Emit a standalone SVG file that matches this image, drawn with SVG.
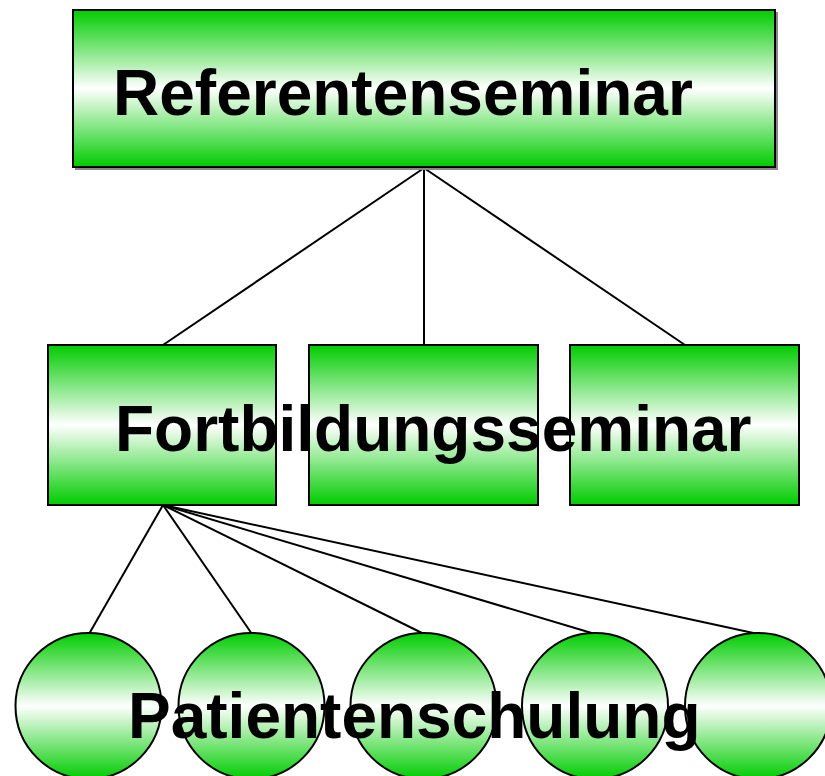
<svg xmlns="http://www.w3.org/2000/svg" width="825" height="776" viewBox="0 0 825 776">
<style>
.box{fill:url(#g);stroke:#000;stroke-width:2}
.sh{fill:#888}
.lbl{font-family:"Liberation Sans",Arial,sans-serif;font-weight:bold;font-size:64px;fill:#000}
.con line{stroke:#000;stroke-width:2}
</style>
<defs>
<linearGradient id="g" x1="0" y1="0" x2="0" y2="1">
<stop offset="0" stop-color="#00cc00"/>
<stop offset="0.5" stop-color="#ffffff"/>
<stop offset="1" stop-color="#00cc00"/>
</linearGradient>
</defs>
<rect width="825" height="776" fill="#fff"/>
<g class="con">
<line x1="424" y1="168" x2="163" y2="345"/>
<line x1="424" y1="168" x2="424" y2="345"/>
<line x1="424" y1="168" x2="685" y2="345"/>
<line x1="163" y1="505" x2="89" y2="634"/>
<line x1="163" y1="505" x2="252" y2="634"/>
<line x1="163" y1="505" x2="424" y2="634"/>
<line x1="163" y1="505" x2="595" y2="634"/>
<line x1="163" y1="505" x2="758" y2="634"/>
</g>
<g id="n-ref">
<rect class="sh" x="75" y="12" width="703" height="158"/>
<rect class="box" x="73" y="10" width="702" height="157"/>
<text class="lbl" x="113" y="115">Referentenseminar</text>
</g>
<g id="n-fort1"><rect class="box" x="48" y="345" width="228" height="160"/></g>
<g id="n-fort2"><rect class="box" x="309" y="345" width="229" height="160"/></g>
<g id="n-fort3"><rect class="box" x="570" y="345" width="229" height="160"/></g>
<g id="n-fort-label"><text class="lbl" x="115" y="451">Fortbildungsseminar</text></g>
<g id="n-pat1"><circle class="box" cx="88.5" cy="706" r="73"/></g>
<g id="n-pat2"><circle class="box" cx="251.5" cy="706" r="73"/></g>
<g id="n-pat3"><circle class="box" cx="423.5" cy="706" r="73"/></g>
<g id="n-pat4"><circle class="box" cx="595" cy="706" r="73"/></g>
<g id="n-pat5"><circle class="box" cx="758" cy="706" r="73"/></g>
<g id="n-pat-label"><text class="lbl" x="128" y="738">Patientenschulung</text></g>
</svg>
